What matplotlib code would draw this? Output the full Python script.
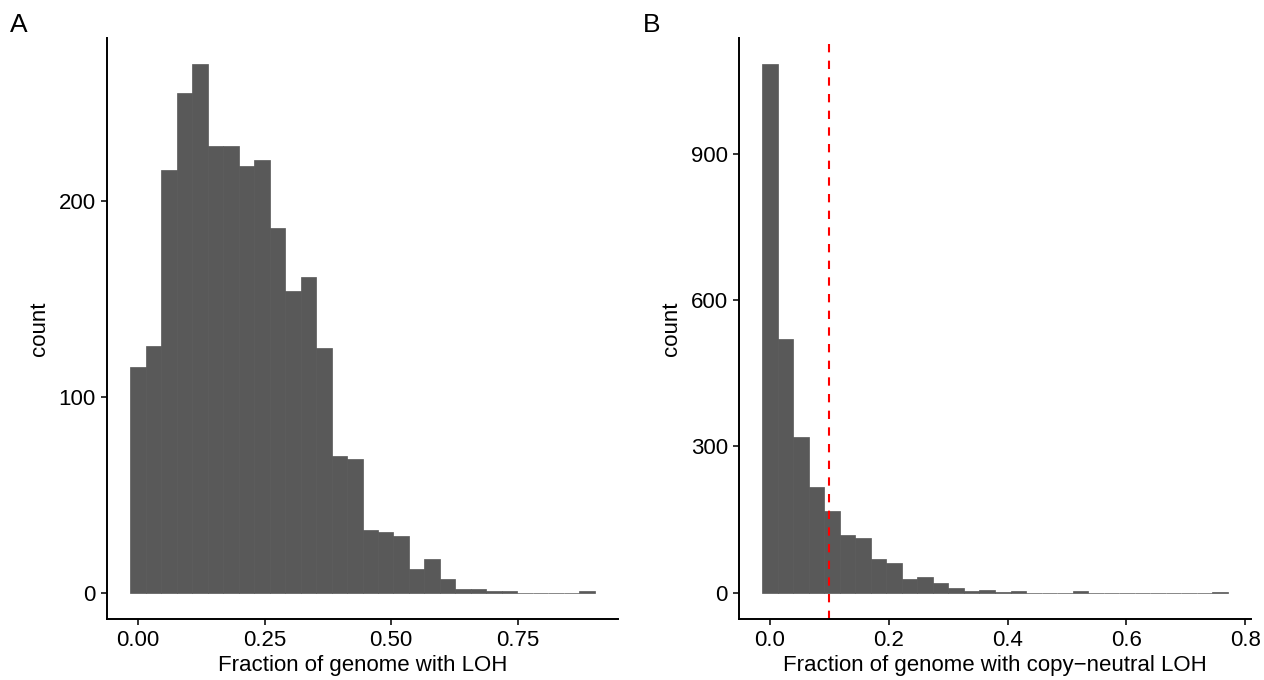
import numpy as np
import matplotlib
matplotlib.use("Agg")
from matplotlib import pyplot as plt

plt.rcParams['font.family'] = ['Liberation Sans', 'DejaVu Sans']

# Histogram A: fraction of genome with LOH (30 bins)
loh_bin_lo = -0.01529
loh_bin_width = 0.03057
loh_counts = [115, 126, 216, 255, 270, 228, 228, 218, 221, 186,
              154, 161, 125, 70, 68, 32, 31, 29, 12, 17,
              7, 2, 2, 1, 1, 0, 0, 0, 0, 1]
loh_xticks = [0.0, 0.25, 0.5, 0.75]
loh_xticklabels = ['0.00', '0.25', '0.50', '0.75']
loh_yticks = [0, 100, 200]

# Histogram B: fraction of genome with copy-neutral LOH (30 bins)
cnloh_bin_lo = -0.01306
cnloh_bin_width = 0.02612
cnloh_counts = [1084, 520, 320, 216, 167, 118, 112, 68, 61, 28,
                32, 20, 10, 3, 5, 1, 3, 0, 0, 0,
                3, 0, 0, 0, 0, 0, 0, 0, 0, 1]
cnloh_xticks = [0.0, 0.2, 0.4, 0.6, 0.8]
cnloh_xticklabels = ['0.0', '0.2', '0.4', '0.6', '0.8']
cnloh_yticks = [0, 300, 600, 900]
cnloh_cutoff = 0.1

bar_col = '#595959'
fs = 16


def draw_hist(ax, lo, width, counts, xticks, xticklabels, yticks, xlabel):
    counts = np.array(counts)
    edges = lo + width * np.arange(counts.size + 1)
    ax.bar(edges[:-1], counts, width=width, align='edge', color=bar_col,
           edgecolor=bar_col, linewidth=0.5)
    # ggplot-style 5% expansion
    span = edges[-1] - edges[0]
    ax.set_xlim(edges[0] - 0.05 * span, edges[-1] + 0.05 * span)
    ymax = counts.max()
    ax.set_ylim(-0.05 * ymax, 1.05 * ymax)
    ax.set_xticks(xticks)
    ax.set_xticklabels(xticklabels)
    ax.set_yticks(yticks)
    for s in ['top', 'right']:
        ax.spines[s].set_visible(False)
    for s in ['left', 'bottom']:
        ax.spines[s].set_linewidth(1.4)
        ax.spines[s].set_color('black')
    ax.tick_params(axis='both', length=4, width=1.4, color='#333333',
                   labelsize=fs, labelcolor='black', pad=4)
    ax.set_xlabel(xlabel, fontsize=fs, labelpad=3)
    ax.set_ylabel('count', fontsize=fs, labelpad=6)


fig = plt.figure(figsize=(12.64, 6.8), dpi=100)
ax1 = fig.add_axes([107 / 1264, 1 - 619 / 680, 511 / 1264, 581.5 / 680])
ax2 = fig.add_axes([739 / 1264, 1 - 619 / 680, 512 / 1264, 581.5 / 680])

draw_hist(ax1, loh_bin_lo, loh_bin_width, loh_counts, loh_xticks,
          loh_xticklabels, loh_yticks, 'Fraction of genome with LOH')
draw_hist(ax2, cnloh_bin_lo, cnloh_bin_width, cnloh_counts, cnloh_xticks,
          cnloh_xticklabels, cnloh_yticks,
          'Fraction of genome with copy\u2212neutral LOH')
ax2.axvline(cnloh_cutoff, color='red', linestyle=(0, (4, 4)), linewidth=1.5)

fig.text(19 / 1264, 1 - 25 / 680, 'A', fontsize=19, ha='center', va='center')
fig.text(652 / 1264, 1 - 25 / 680, 'B', fontsize=19, ha='center', va='center')

fig.savefig('out.png', dpi=100)
